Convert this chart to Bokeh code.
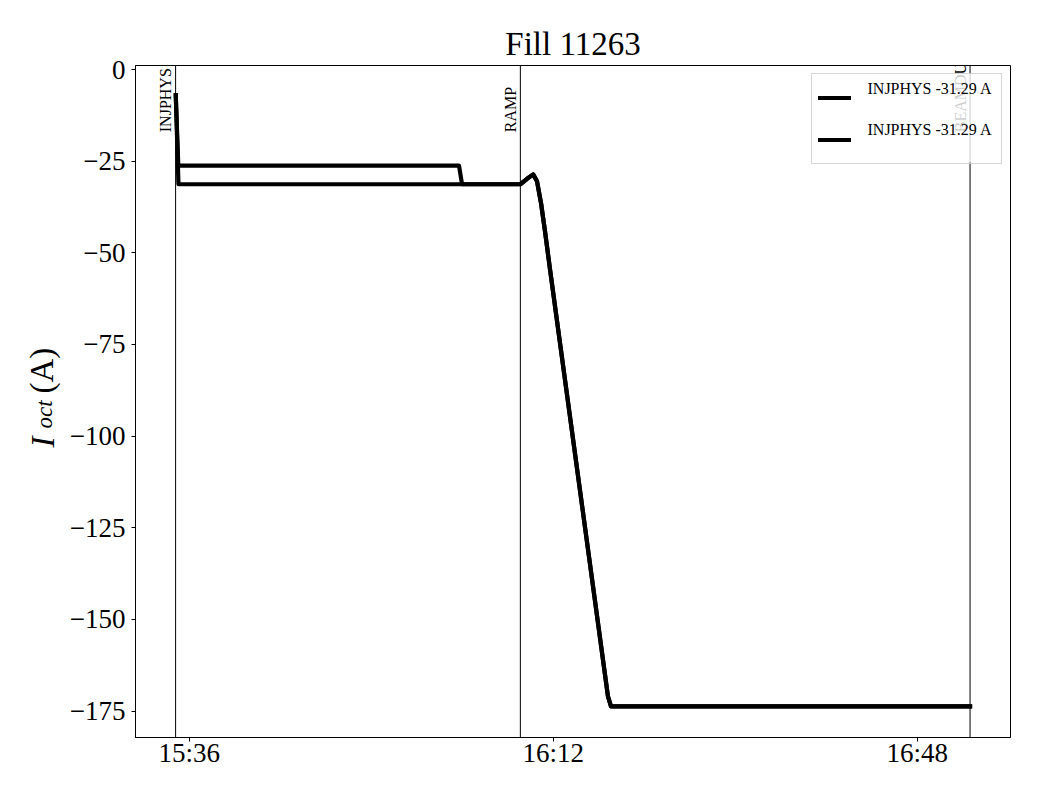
import math
import pandas as pd
from bokeh.plotting import figure
from bokeh.layouts import row
from bokeh.models import (Range1d, FixedTicker, DatetimeTickFormatter, Span, Label,
                          Legend, LegendItem, ColumnDataSource, BoxAnnotation)
from bokeh.embed import file_html
from bokeh.resources import INLINE

# ---------------- data ----------------
DAY = "2025-10-12 "
TITLE = "Fill 11263"

series_a_time = ["15:34:40", "15:34:55", "16:02:41", "16:02:59", "16:08:45", "16:09:25",
                 "16:10:01", "16:10:24", "16:10:48", "16:11:11", "16:11:41", "16:17:25",
                 "16:17:43", "16:53:14"]
series_a_current = [-7.0, -26.2, -26.2, -31.29, -31.29, -29.8,
                    -28.6, -30.5, -36.5, -44.0, -54.5, -171.0,
                    -173.7, -173.7]

series_b_time = ["15:34:40", "15:34:56", "16:08:45", "16:09:25",
                 "16:10:01", "16:10:24", "16:10:48", "16:11:11", "16:11:41", "16:17:25",
                 "16:17:43", "16:53:14"]
series_b_current = [-7.0, -31.29, -31.29, -29.8,
                    -28.6, -30.5, -36.5, -44.0, -54.5, -171.0,
                    -173.7, -173.7]

legend_labels = ["INJPHYS -31.29 A", "INJPHYS -31.29 A"]

event_names = ["INJPHYS", "RAMP", "BEAMDUMP"]
event_times = ["15:34:39", "16:08:45", "16:53:14"]
event_label_y = -17.1

x_ticks = ["15:36", "16:12", "16:48"]
x_limits = ["15:30:41", "16:57:14"]
y_ticks = [0, -25, -50, -75, -100, -125, -150, -175]
y_limits = [-182.2, 1.1]

y_label_parts = ["I", "oct", "(A)"]


def ms(t):
    return pd.Timestamp(DAY + t).value / 1e6


FONT = "Liberation Serif"
H = 784
LEFT_W = 62
TOP, BOTTOM = 65, 47
FRAME_LEFT = 135

# ---------------- main plot ----------------
p = figure(width=1024 - LEFT_W, height=H, x_axis_type="datetime",
           output_backend="svg", toolbar_location=None,
           x_range=Range1d(ms(x_limits[0]), ms(x_limits[1])),
           y_range=Range1d(y_limits[0], y_limits[1]),
           min_border_left=FRAME_LEFT - LEFT_W, min_border_right=14,
           min_border_top=TOP, min_border_bottom=BOTTOM)

p.title.text = TITLE
p.title.align = "center"
p.title.text_font = FONT
p.title.text_font_size = "33px"
p.title.text_font_style = "normal"
p.title.text_color = "black"
p.title.standoff = 8

p.grid.visible = False
p.outline_line_color = "black"
p.outline_line_width = 1
p.outline_line_alpha = 1.0

for ax in (p.xaxis[0], p.yaxis[0]):
    ax.axis_line_color = "black"
    ax.major_tick_line_color = "black"
    ax.major_tick_out = 4
    ax.major_tick_in = 0
    ax.minor_tick_line_color = None
    ax.major_label_text_font = FONT
    ax.major_label_text_font_size = "27px"
    ax.major_label_text_color = "black"

p.xaxis.ticker = FixedTicker(ticks=[ms(t + ":00") for t in x_ticks])
p.xaxis.formatter = DatetimeTickFormatter(
    seconds="%H:%M", minsec="%H:%M", minutes="%H:%M", hourmin="%H:%M", hours="%H:%M")
p.xaxis.major_label_standoff = -4

p.yaxis.ticker = FixedTicker(ticks=y_ticks)
p.yaxis.major_label_overrides = {v: str(v).replace("-", "\u2212") for v in y_ticks}
p.yaxis.major_label_standoff = 6

# event markers (drawn beneath the legend)
for name, t in zip(event_names, event_times):
    p.add_layout(Span(location=ms(t), dimension="height", line_color="black",
                      line_width=1, level="underlay"))
    p.add_layout(Label(x=ms(t), y=event_label_y, text=name, angle=math.pi / 2,
                       text_align="left", text_baseline="alphabetic", x_offset=-10,
                       text_font=FONT, text_font_size="16px", text_color="black",
                       level="underlay"))

frame_bottom = H - BOTTOM

# translucent white legend background (covers the markers beneath it)
p.add_layout(BoxAnnotation(left=813 - FRAME_LEFT, right=1002 - FRAME_LEFT,
                           top=frame_bottom - 73, bottom=frame_bottom - 162,
                           left_units="screen", right_units="screen",
                           top_units="screen", bottom_units="screen",
                           fill_color="white", fill_alpha=0.8, line_color=None,
                           level="underlay"))

# series
src_a = ColumnDataSource(dict(t=[ms(t) for t in series_a_time], y=series_a_current))
src_b = ColumnDataSource(dict(t=[ms(t) for t in series_b_time], y=series_b_current))
ra = p.line("t", "y", source=src_a, line_color="black", line_width=4.2,
            line_join="round", line_cap="square")
rb = p.line("t", "y", source=src_b, line_color="black", line_width=4.2,
            line_join="round", line_cap="square")

# legend: frame + line samples; the label texts sit a little above each sample
legend = Legend(items=[LegendItem(label="", renderers=[ra]),
                       LegendItem(label="", renderers=[rb])],
                location="top_right", margin=8, padding=6, spacing=7,
                glyph_width=33, glyph_height=35, label_width=128,
                label_standoff=16,
                label_text_font=FONT, label_text_font_size="16px",
                border_line_color="#cccccc", border_line_alpha=0.8, border_line_width=1,
                background_fill_alpha=0.0)
p.add_layout(legend)

legend_text_x = 867 - FRAME_LEFT
for txt, cy in zip(legend_labels, [88, 129]):
    p.add_layout(Label(x=legend_text_x, y=frame_bottom - cy, x_units="screen",
                       y_units="screen", text=txt, text_align="left",
                       text_baseline="middle", text_font=FONT, text_font_size="16px",
                       text_color="black", level="overlay"))

# ---------------- y-axis label strip (I_oct (A)) ----------------
lab = figure(width=LEFT_W, height=H, output_backend="svg", toolbar_location=None,
             x_axis_type=None, y_axis_type=None,
             min_border_left=0, min_border_right=0,
             min_border_top=TOP, min_border_bottom=BOTTOM,
             x_range=Range1d(0, 1), y_range=Range1d(0, 1))
lab.outline_line_color = None
lab.grid.visible = False

part_style = [("italic", "33px", 42, frame_bottom - 447),
              ("italic", "23px", 44, frame_bottom - 428),
              ("normal", "33px", 41, frame_bottom - 393)]
for txt, (style, size, sx, sy) in zip(y_label_parts, part_style):
    lab.add_layout(Label(x=sx, y=sy, x_units="screen", y_units="screen", text=txt,
                         angle=math.pi / 2, text_align="left", text_baseline="alphabetic",
                         text_font=FONT, text_font_style=style, text_font_size=size,
                         text_color="black"))

layout = row(lab, p)
open("out.html", "w").write(file_html(layout, INLINE))
